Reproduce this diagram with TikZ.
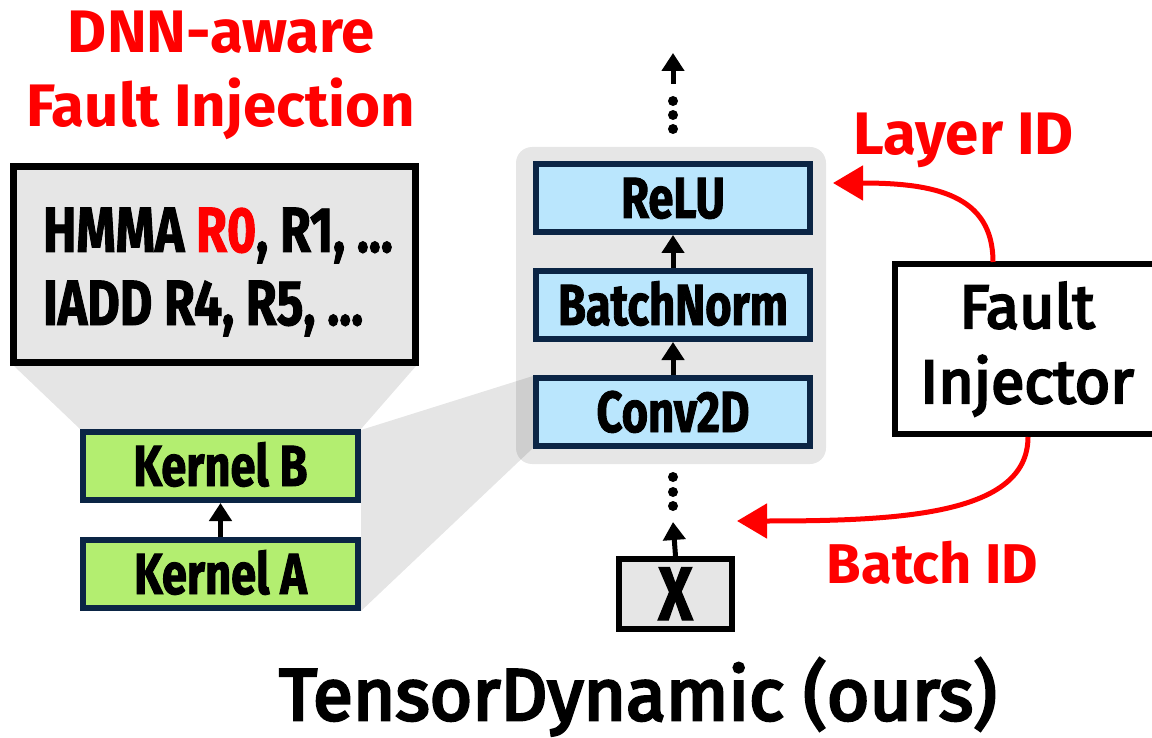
\documentclass[tikz,border=0pt]{standalone}
\usepackage{fontspec}
\setmainfont{Fira Sans}
\newfontfamily\condfont[FakeStretch=0.78,FakeBold=1.5]{Fira Sans}
\newfontfamily\medfont[FakeBold=4]{Fira Sans}
\usetikzlibrary{arrows.meta}

\definecolor{navy}{HTML}{0B2545}
\definecolor{skyfill}{HTML}{BAE6FD}
\definecolor{kernfill}{HTML}{B3EE70}
\definecolor{panelgray}{HTML}{E6E6E6}
\definecolor{hotred}{HTML}{FF0000}

\tikzset{
  boxlabel/.style={font=\condfont\bfseries\fontsize{58}{58}\selectfont,
    text height=40pt, text depth=0pt, inner sep=0pt},
  layerbox/.style={boxlabel, draw=navy, line width=6pt, fill=skyfill,
    minimum width=274pt, minimum height=68pt},
  kernelbox/.style={boxlabel, draw=navy, line width=6pt, fill=kernfill,
    minimum width=275pt, minimum height=68pt},
  codeline/.style={font=\condfont\bfseries\fontsize{64}{64}\selectfont,
    anchor=base west, inner sep=0pt},
  redlabel/.style={font=\bfseries\fontsize{60}{60}\selectfont, text=hotred,
    anchor=base, inner sep=0pt},
  plainlabel/.style={font=\medfont\fontsize{61}{61}\selectfont,
    anchor=base, inner sep=0pt},
  flow/.style={line width=5pt, -{Triangle[length=18pt,width=22pt]}},
  inject/.style={line width=5pt, draw=hotred,
    -{Triangle[length=30pt,width=34pt]}},
  zoomfan/.style={fill=black, fill opacity=0.1},
  dotmark/.style={circle, fill=black, inner sep=0pt, minimum size=10pt},
}

\begin{document}
\begin{tikzpicture}[x=1pt,y=-1pt]
\useasboundingbox (0,0) rectangle (1152,738);

% layer group background
\fill[panelgray, rounded corners=16pt] (516,147) rectangle (826,464);

% zoom fans: instruction listing <- kernel, kernels <- Conv2D
\fill[zoomfan] (14,366) -- (416,366) -- (361,429) -- (80,429) -- cycle;
\fill[zoomfan] (361,430) -- (533,376) -- (533,448) -- (361,611) -- cycle;

% instruction listing
\node[draw=black, line width=7pt, fill=panelgray, inner sep=0pt,
      minimum width=402pt, minimum height=196pt] (code) at (214.5,264.5) {};
\node[codeline] (hmma) at (43,252) {HMMA \textcolor{hotred}{R0}, R1, ...};
\node[codeline] (iadd) at (43,325) {IADD R4, R5, ...};

% kernels
\node[kernelbox] (kb) at (220.5,466) {Kernel B};
\node[kernelbox] (ka) at (220.5,574) {Kernel A};
\draw[flow] (ka.north) -- (kb.south);

% DNN layers
\node[layerbox] (relu) at (673,198) {ReLU};
\node[layerbox] (bn)   at (673,305) {BatchNorm};
\node[layerbox] (conv) at (673,412) {Conv2D};
\draw[flow] (bn.north) -- (relu.south);
\draw[flow] (conv.north) -- (bn.south);

% input tensor
\node[draw=black, line width=6pt, fill=panelgray, inner sep=0pt,
      minimum width=113pt, minimum height=70pt,
      font=\condfont\bfseries\fontsize{76}{76}\selectfont,
      text height=52pt, text depth=0pt] (x) at (675.5,594) {X};

% elided layers above and below
\node[dotmark] (u1) at (673,101) {};
\node[dotmark] (u2) at (673,115) {};
\node[dotmark] (u3) at (673,129) {};
\coordinate (upbase) at (673,84);
\coordinate (uptip) at (673,53);
\draw[flow] (upbase) -- (uptip);

\node[dotmark] (d1) at (673,477) {};
\node[dotmark] (d2) at (673,492) {};
\node[dotmark] (d3) at (673,506) {};
\coordinate (intip) at (673,522);
\draw[flow] (x.north) -- (intip);

% fault injector
\node[draw=black, line width=6pt, inner sep=0pt,
      minimum width=270pt, minimum height=170pt] (fi) at (1030,349) {};
\node[plainlabel] (fi1) at (1027,328) {Fault};
\node[plainlabel] (fi2) at (1027,403) {Injector};

% injection targets
\coordinate (layertgt) at (833,183);
\coordinate (batchtgt) at (737,521);
\coordinate (fitop) at (993,262);
\coordinate (fibot) at (1028,437);
\draw[inject] (fitop) .. controls (993,195) and (935,183) .. (layertgt);
\draw[inject] (fibot) .. controls (1028,515) and (900,521) .. (batchtgt);

% labels
\node[redlabel] (t1) at (221.5,53) {DNN-aware};
\node[redlabel] (t2) at (220.5,127) {Fault Injection};
\node[redlabel] (lid) at (963.5,155) {Layer ID};
\node[redlabel, font=\bfseries\fontsize{56}{56}\selectfont] (bid) at (932.5,583) {Batch ID};
\node[plainlabel, font=\medfont\fontsize{73}{73}\selectfont]
      (title) at (638,720) {TensorDynamic (ours)};
\end{tikzpicture}
\end{document}
